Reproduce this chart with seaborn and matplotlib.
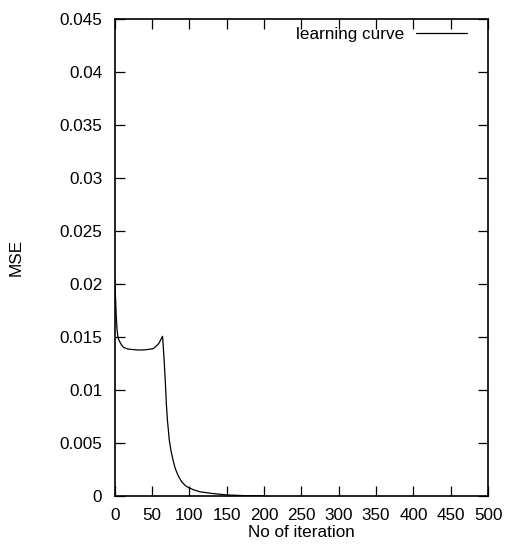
import matplotlib
matplotlib.use("Agg")
import matplotlib.pyplot as plt
import seaborn as sns
import pandas as pd

iteration = [0, 1, 2, 3, 4, 5, 7, 9, 12, 18, 25, 32, 40, 48, 52, 55, 58, 60, 62, 64, 66, 68,
             69, 70.5, 73, 75.5, 78, 81, 85, 90, 96, 105, 114, 128, 150, 175, 200]
mse = [0.0205, 0.0188, 0.0170, 0.0158, 0.0151, 0.0148, 0.0145, 0.01425, 0.0140, 0.01385,
       0.0138, 0.01376, 0.01378, 0.01385, 0.0139, 0.0141, 0.0143, 0.0145, 0.0148, 0.01506,
       0.0130, 0.0104, 0.0088, 0.0072, 0.0053, 0.0042, 0.0034, 0.0026, 0.0019, 0.0013,
       0.0009, 0.0006, 0.0004, 0.00026, 0.0001, 0.00003, 0.00001]
x_ticks = [0, 50, 100, 150, 200, 250, 300, 350, 400, 450, 500]
y_ticks = [0, 0.005, 0.01, 0.015, 0.02, 0.025, 0.03, 0.035, 0.04, 0.045]
y_tick_labels = ["0", "0.005", "0.01", "0.015", "0.02", "0.025", "0.03", "0.035", "0.04", "0.045"]

sns.set_theme(style="ticks")
plt.rcParams['font.family'] = ['Liberation Sans', 'DejaVu Sans']
plt.rcParams['text.color'] = 'black'
plt.rcParams['axes.labelcolor'] = 'black'

df = pd.DataFrame({"iteration": iteration, "mse": mse})

fig = plt.figure(figsize=(5.10, 5.54), dpi=100)
ax = fig.add_axes([0.225, 0.1047, 0.732, 0.8615])
sns.lineplot(data=df, x="iteration", y="mse", ax=ax, color="black", linewidth=0.9,
             label="learning curve")

fs = 12.3
ax.set_xlim(0, 500)
ax.set_ylim(0, 0.045)
ax.set_xticks(x_ticks)
ax.set_xticklabels([str(t) for t in x_ticks])
ax.set_yticks(y_ticks)
ax.set_yticklabels(y_tick_labels)
ax.tick_params(direction="in", length=7, width=0.9, top=True, right=True,
               labelsize=fs, colors="black", pad=9)
for s in ax.spines.values():
    s.set_linewidth(1.2)
    s.set_color("black")
ax.set_xlabel("No of iteration", fontsize=fs, labelpad=1)
ax.set_ylabel("MSE", fontsize=fs, labelpad=26)

leg = ax.legend(loc="center right", frameon=False, markerfirst=False, handlelength=3.0,
                fontsize=fs, borderpad=0, borderaxespad=0, handletextpad=0.7,
                bbox_to_anchor=(0.9437, 0.966))
for t in leg.get_texts():
    t.set_color("black")

fig.savefig("out.png", dpi=100)
